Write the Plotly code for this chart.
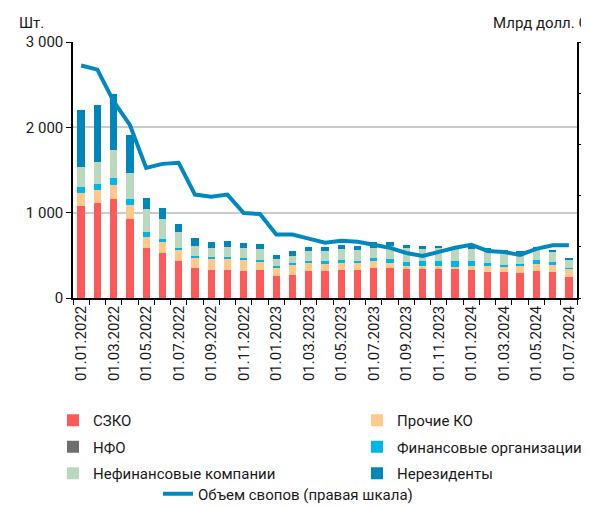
import plotly.graph_objects as go

# Monthly dates 01.01.2022 .. 01.07.2024
dates = [f"01.{m:02d}.{y}" for y in (2022, 2023, 2024) for m in range(1, 13)][:31]

# Number of swap deals (pcs), by counterparty type
szko = [1082, 1113, 1164, 930, 586, 531, 437, 352, 328, 332, 320, 332, 262, 274, 320, 320,
        332, 324, 355, 355, 340, 344, 344, 336, 332, 309, 301, 293, 320, 301, 250]
other_ko = [148, 149, 164, 156, 133, 121, 122, 121, 133, 125, 125, 86, 93, 113, 86, 75,
            82, 82, 82, 59, 39, 31, 31, 24, 47, 70, 66, 86, 82, 86, 94]
nfo = [0] * 31
fin_org = [75, 74, 82, 74, 58, 39, 27, 23, 23, 24, 27, 27, 24, 27, 28, 35,
           31, 28, 32, 47, 47, 55, 62, 70, 51, 35, 20, 23, 43, 39, 11]
nonfin = [230, 258, 324, 301, 262, 235, 187, 113, 106, 117, 118, 129, 78, 78, 121, 125,
          133, 132, 117, 148, 156, 148, 145, 140, 150, 141, 148, 117, 125, 109, 87]
nonres = [665, 668, 657, 445, 137, 125, 98, 90, 70, 70, 58, 55, 47, 55, 43, 43,
          43, 43, 70, 47, 35, 28, 31, 31, 32, 27, 28, 36, 30, 31, 27]

# Swap volume, bn USD (right axis)
swap_volume = [22.7, 22.3, 19.2, 16.9, 12.7, 13.1, 13.2, 10.1, 9.9, 10.1, 8.3, 8.2, 6.2, 6.2,
               5.8, 5.4, 5.6, 5.5, 5.2, 4.9, 4.4, 4.1, 4.5, 4.9, 5.2, 4.6, 4.5, 4.2, 4.8, 5.15, 5.15]

tick_text = [d if i % 2 == 0 else "" for i, d in enumerate(dates)]

FONT = "Roboto"
TXT = "#1a1a1a"

# name, values, colour, legend column
series = [
    ("СЗКО", szko, "#FF5A5A", "legend"),
    ("Прочие КО", other_ko, "#FFC98B", "legend3"),
    ("НФО", nfo, "#6E6E6E", "legend"),
    ("Финансовые организации", fin_org, "#00B5E9", "legend3"),
    ("Нефинансовые компании", nonfin, "#B9D8BD", "legend"),
    ("Нерезиденты", nonres, "#0086B9", "legend3"),
]

fig = go.Figure()
for name, vals, color, leg in series:
    fig.add_trace(go.Bar(x=dates, y=vals, name=name, legend=leg, legendgroup=name,
                         marker=dict(color=color, line_width=0)))

fig.add_trace(go.Scatter(
    x=dates, y=swap_volume, mode="lines", name="Объем свопов (правая шкала)",
    line=dict(color="#0088BF", width=4), yaxis="y2", legend="legend2",
))

legend_common = dict(yref="container", yanchor="top", xanchor="left", orientation="v",
                     tracegroupgap=4, font=dict(size=15, color=TXT), bgcolor="rgba(0,0,0,0)")

# the page body adds an 8px offset, so the figure is 8px smaller than the window
fig.update_layout(
    width=581, height=498,
    barmode="stack", bargap=0.55,
    plot_bgcolor="white", paper_bgcolor="white",
    font=dict(family=FONT, size=15, color=TXT),
    margin=dict(l=65, r=12, t=34, b=208, autoexpand=False),
    showlegend=True,
    legend=dict(x=-0.0397, y=0.2048, **legend_common),
    legend3=dict(x=0.5635, y=0.2048, **legend_common),
    legend2=dict(x=0.1687, y=0.057, **legend_common),
    xaxis=dict(
        type="category", tickmode="array", tickvals=dates, ticktext=tick_text,
        tickangle=-90, tickson="boundaries", ticks="outside", ticklen=5,
        tickcolor="black", showline=True, linecolor="black", linewidth=1.5,
        showgrid=False, automargin=False, tickfont=dict(size=15, color=TXT),
    ),
    yaxis=dict(
        range=[0, 3000], tickvals=[0, 1000, 2000, 3000],
        ticktext=["0", "1 000", "2 000", "3 000"],
        ticks="outside", ticklen=5, tickcolor="black",
        showline=True, linecolor="black", linewidth=1.5,
        showgrid=True, gridcolor="#CBCBCB", gridwidth=1.5, zeroline=False,
        automargin=False, tickfont=dict(size=15, color=TXT),
    ),
    yaxis2=dict(
        overlaying="y", side="right", range=[0, 25], dtick=5,
        ticks="outside", ticklen=5, tickcolor="black",
        showline=True, linecolor="black", linewidth=1.5,
        showgrid=False, zeroline=False, showticklabels=False, automargin=False,
    ),
    annotations=[
        dict(text="Шт.", xref="paper", yref="paper", x=-0.111, y=1.074,
             xanchor="left", yanchor="middle", showarrow=False, font=dict(size=15, color=TXT)),
        dict(text="Млрд долл. США", xref="paper", yref="paper", x=0.829, y=1.074,
             xanchor="left", yanchor="middle", showarrow=False, font=dict(size=15, color=TXT)),
    ],
)

fig.write_html("out.html")
